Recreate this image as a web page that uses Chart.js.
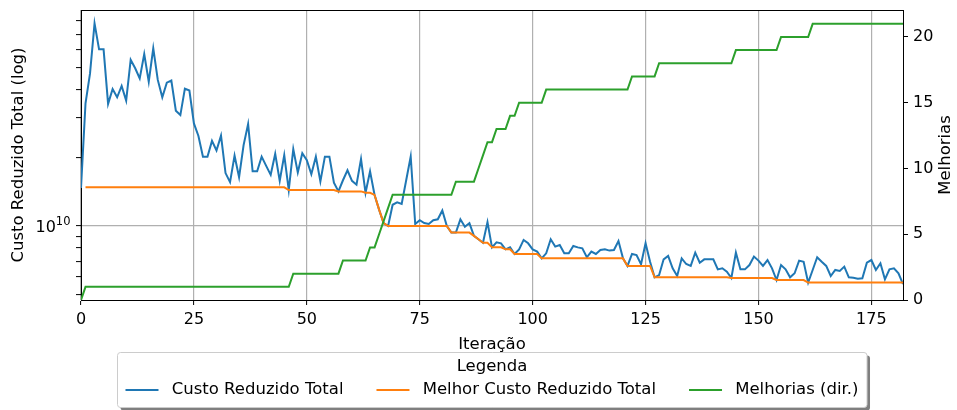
<!DOCTYPE html>
<html>
<head>
<meta charset="utf-8">
<script src="https://cdn.jsdelivr.net/npm/chart.js@4.4.1/dist/chart.umd.min.js"></script>
<style>
  html, body { margin: 0; padding: 0; background: #fff; }
</style>
</head>
<body>
<canvas id="myChart" width="957" height="410"></canvas>
<script>
// iterações 0..182
var iteracoes = [];
for (var k = 0; k <= 182; k++) iteracoes.push(k);

var custoReduzido = [
    1.47e10, 3.47e10, 4.70e10, 7.81e10, 6.00e10, 6.00e10, 3.45e10, 4.01e10, 3.69e10, 4.14e10,
    3.57e10, 5.39e10, 4.95e10, 4.47e10, 5.72e10, 4.32e10, 6.06e10, 4.40e10, 3.69e10, 4.28e10,
    4.37e10, 3.22e10, 3.08e10, 4.03e10, 3.95e10, 2.83e10, 2.49e10, 2.02e10, 2.02e10, 2.37e10,
    2.15e10, 2.50e10, 1.71e10, 1.56e10, 2.04e10, 1.64e10, 2.27e10, 2.81e10, 1.74e10, 1.74e10,
    2.02e10, 1.84e10, 1.68e10, 2.08e10, 1.58e10, 2.05e10, 1.44e10, 2.18e10, 1.72e10, 2.09e10,
    1.95e10, 1.69e10, 2.02e10, 1.57e10, 2.02e10, 2.02e10, 1.55e10, 1.42e10, 1.59e10, 1.76e10,
    1.58e10, 1.52e10, 1.97e10, 1.40e10, 1.74e10, 1.37e10, 1.18e10, 1.03e10, 1.00e10, 1.24e10,
    1.27e10, 1.25e10, 1.59e10, 2.02e10, 1.02e10, 1.06e10, 1.03e10, 1.02e10, 1.06e10, 1.07e10,
    1.17e10, 1.00e10, 9.35e9, 9.35e9, 1.07e10, 9.93e9, 1.03e10, 9.04e9, 8.74e9, 8.44e9,
    1.04e10, 8.05e9, 8.47e9, 8.39e9, 7.89e9, 8.05e9, 7.53e9, 7.89e9, 8.68e9, 8.39e9,
    7.89e9, 7.71e9, 7.20e9, 7.58e9, 8.74e9, 8.11e9, 8.25e9, 7.58e9, 7.58e9, 8.16e9,
    8.05e9, 7.97e9, 7.28e9, 7.71e9, 7.53e9, 7.84e9, 7.89e9, 7.79e9, 7.84e9, 8.59e9,
    7.20e9, 6.67e9, 7.53e9, 7.45e9, 6.78e9, 8.39e9, 6.96e9, 5.94e9, 6.08e9, 7.13e9,
    7.38e9, 6.51e9, 6.02e9, 7.20e9, 6.80e9, 6.67e9, 7.63e9, 6.89e9, 7.13e9, 7.13e9,
    7.13e9, 6.44e9, 6.51e9, 6.29e9, 5.90e9, 7.63e9, 6.44e9, 6.44e9, 6.73e9, 7.33e9,
    7.04e9, 6.67e9, 7.08e9, 6.51e9, 5.78e9, 6.73e9, 6.44e9, 5.94e9, 6.19e9, 7.04e9,
    6.96e9, 5.63e9, 6.40e9, 7.28e9, 6.96e9, 6.67e9, 6.02e9, 6.40e9, 6.34e9, 6.62e9,
    5.94e9, 5.92e9, 5.86e9, 5.88e9, 6.89e9, 7.08e9, 6.40e9, 6.85e9, 5.82e9, 6.44e9,
    6.51e9, 6.19e9, 5.55e9
];

var melhorCusto = [
    null, 1.48e10, 1.48e10, 1.48e10, 1.48e10, 1.48e10, 1.48e10, 1.48e10, 1.48e10, 1.48e10,
    1.48e10, 1.48e10, 1.48e10, 1.48e10, 1.48e10, 1.48e10, 1.48e10, 1.48e10, 1.48e10, 1.48e10,
    1.48e10, 1.48e10, 1.48e10, 1.48e10, 1.48e10, 1.48e10, 1.48e10, 1.48e10, 1.48e10, 1.48e10,
    1.48e10, 1.48e10, 1.48e10, 1.48e10, 1.48e10, 1.48e10, 1.48e10, 1.48e10, 1.48e10, 1.48e10,
    1.48e10, 1.48e10, 1.48e10, 1.48e10, 1.48e10, 1.48e10, 1.44e10, 1.44e10, 1.44e10, 1.44e10,
    1.44e10, 1.44e10, 1.44e10, 1.44e10, 1.44e10, 1.44e10, 1.44e10, 1.42e10, 1.42e10, 1.42e10,
    1.42e10, 1.42e10, 1.42e10, 1.40e10, 1.40e10, 1.37e10, 1.18e10, 1.03e10, 1.00e10, 1.00e10,
    1.00e10, 1.00e10, 1.00e10, 1.00e10, 1.00e10, 1.00e10, 1.00e10, 1.00e10, 1.00e10, 1.00e10,
    1.00e10, 1.00e10, 9.35e9, 9.35e9, 9.35e9, 9.35e9, 9.35e9, 9.04e9, 8.74e9, 8.44e9,
    8.44e9, 8.05e9, 8.05e9, 8.05e9, 7.89e9, 7.89e9, 7.53e9, 7.53e9, 7.53e9, 7.53e9,
    7.53e9, 7.53e9, 7.20e9, 7.20e9, 7.20e9, 7.20e9, 7.20e9, 7.20e9, 7.20e9, 7.20e9,
    7.20e9, 7.20e9, 7.20e9, 7.20e9, 7.20e9, 7.20e9, 7.20e9, 7.20e9, 7.20e9, 7.20e9,
    7.20e9, 6.67e9, 6.67e9, 6.67e9, 6.67e9, 6.67e9, 6.67e9, 5.94e9, 5.94e9, 5.94e9,
    5.94e9, 5.94e9, 5.94e9, 5.94e9, 5.94e9, 5.94e9, 5.94e9, 5.94e9, 5.94e9, 5.94e9,
    5.94e9, 5.94e9, 5.94e9, 5.94e9, 5.90e9, 5.90e9, 5.90e9, 5.90e9, 5.90e9, 5.90e9,
    5.90e9, 5.90e9, 5.90e9, 5.90e9, 5.78e9, 5.78e9, 5.78e9, 5.78e9, 5.78e9, 5.78e9,
    5.78e9, 5.63e9, 5.63e9, 5.63e9, 5.63e9, 5.63e9, 5.63e9, 5.63e9, 5.63e9, 5.63e9,
    5.63e9, 5.63e9, 5.63e9, 5.63e9, 5.63e9, 5.63e9, 5.63e9, 5.63e9, 5.63e9, 5.63e9,
    5.63e9, 5.63e9, 5.63e9
];

var melhorias = [
    0, 1, 1, 1, 1, 1, 1, 1, 1, 1,
    1, 1, 1, 1, 1, 1, 1, 1, 1, 1,
    1, 1, 1, 1, 1, 1, 1, 1, 1, 1,
    1, 1, 1, 1, 1, 1, 1, 1, 1, 1,
    1, 1, 1, 1, 1, 1, 1, 2, 2, 2,
    2, 2, 2, 2, 2, 2, 2, 2, 3, 3,
    3, 3, 3, 3, 4, 4, 5, 6, 7, 8,
    8, 8, 8, 8, 8, 8, 8, 8, 8, 8,
    8, 8, 8, 9, 9, 9, 9, 9, 10, 11,
    12, 12, 13, 13, 13, 14, 14, 15, 15, 15,
    15, 15, 15, 16, 16, 16, 16, 16, 16, 16,
    16, 16, 16, 16, 16, 16, 16, 16, 16, 16,
    16, 16, 17, 17, 17, 17, 17, 17, 18, 18,
    18, 18, 18, 18, 18, 18, 18, 18, 18, 18,
    18, 18, 18, 18, 18, 19, 19, 19, 19, 19,
    19, 19, 19, 19, 19, 20, 20, 20, 20, 20,
    20, 20, 21, 21, 21, 21, 21, 21, 21, 21,
    21, 21, 21, 21, 21, 21, 21, 21, 21, 21,
    21, 21, 21
];

var xTicks = [0, 25, 50, 75, 100, 125, 150, 175];
var yTicksLog = [5e9, 6e9, 7e9, 8e9, 9e9, 1e10, 2e10, 3e10, 4e10, 5e10, 6e10, 7e10, 8e10];
var yTicksDir = [0, 5, 10, 15, 20];

Chart.defaults.font.family = '"DejaVu Sans", sans-serif';
Chart.defaults.color = '#000';

var tickFont = { size: 16 };
var labelFont = { size: 16.5 };

function pontos(serie) {
    return iteracoes.map(function (x, i) { return { x: x, y: serie[i] }; });
}

function semPadding(s) {
    s.paddingTop = 0;
    s.paddingBottom = 0;
}

// moldura do gráfico, rótulo 10^10 e título do eixo direito
var moldura = {
    id: 'moldura',
    afterDraw: function (chart) {
        var ctx = chart.ctx, a = chart.chartArea;
        ctx.save();
        ctx.strokeStyle = '#000';
        ctx.lineWidth = 1;
        ctx.beginPath();
        ctx.moveTo(a.left, a.top + 0.5);
        ctx.lineTo(a.right, a.top + 0.5);
        ctx.stroke();

        // 10^10 como no matplotlib (expoente menor e elevado)
        var yp = chart.scales.y.getPixelForValue(1e10);
        ctx.fillStyle = '#000';
        ctx.textBaseline = 'alphabetic';
        ctx.textAlign = 'right';
        ctx.font = '11.5px "DejaVu Sans"';
        var wSup = ctx.measureText('10').width;
        ctx.fillText('10', 70.5, yp - 1);
        ctx.font = tickFont.size + 'px "DejaVu Sans"';
        ctx.fillText('10', 70.5 - wSup, yp + 6);

        ctx.font = labelFont.size + 'px "DejaVu Sans"';
        ctx.textAlign = 'center';
        ctx.textBaseline = 'middle';
        ctx.translate(946, (a.top + a.bottom) / 2);
        ctx.rotate(-Math.PI / 2);
        ctx.fillText('Melhorias', 0, 0);
        ctx.restore();
    }
};

var quadroLegenda = {
    id: 'quadroLegenda',
    afterDraw: function (chart) {
        var ctx = chart.ctx, a = chart.chartArea;
        var sets = chart.data.datasets;
        var fs = labelFont.size;
        ctx.save();
        ctx.font = fs + 'px "DejaVu Sans"';
        var handle = 2 * fs, textPad = 0.8 * fs, colGap = 2 * fs, pad = 0.5 * fs;
        var widths = sets.map(function (d) { return ctx.measureText(d.label).width; });
        var content = colGap * (sets.length - 1);
        widths.forEach(function (w) { content += handle + textPad + w; });
        var cx = (a.left + a.right) / 2;
        var boxW = content + 2 * pad, boxH = 55;
        var bx = Math.round(cx - boxW / 2) + 0.5, by = 352.5;

        ctx.fillStyle = 'rgba(0,0,0,0.5)';
        ctx.beginPath();
        ctx.roundRect(bx + 3, by + 3, boxW, boxH, 3);
        ctx.fill();
        ctx.fillStyle = '#fff';
        ctx.strokeStyle = '#cccccc';
        ctx.lineWidth = 1;
        ctx.beginPath();
        ctx.roundRect(bx, by, boxW, boxH, 3);
        ctx.fill();
        ctx.stroke();

        ctx.fillStyle = '#000';
        ctx.textBaseline = 'middle';
        ctx.textAlign = 'center';
        ctx.fillText('Legenda', cx, 367);

        ctx.textAlign = 'left';
        var x = cx - content / 2, y = 390;
        sets.forEach(function (d, i) {
            ctx.strokeStyle = d.borderColor;
            ctx.lineWidth = 2;
            ctx.beginPath();
            ctx.moveTo(x, y);
            ctx.lineTo(x + handle, y);
            ctx.stroke();
            ctx.fillText(d.label, x + handle + textPad, y);
            x += handle + textPad + widths[i] + colGap;
        });
        ctx.restore();
    }
};

new Chart(document.getElementById('myChart').getContext('2d'), {
    type: 'line',
    data: {
        datasets: [
            { label: 'Custo Reduzido Total', data: pontos(custoReduzido), borderColor: '#1f77b4', yAxisID: 'y', order: 2 },
            { label: 'Melhor Custo Reduzido Total', data: pontos(melhorCusto), borderColor: '#ff7f0e', yAxisID: 'y', order: 1 },
            { label: 'Melhorias (dir.)', data: pontos(melhorias), borderColor: '#2ca02c', yAxisID: 'y1', order: 0 }
        ]
    },
    options: {
        responsive: false,
        animation: false,
        devicePixelRatio: 1,
        layout: { padding: { top: 10, left: 0, right: 0, bottom: 0 } },
        elements: {
            point: { radius: 0 },
            line: { tension: 0, borderWidth: 2, fill: false }
        },
        plugins: { legend: { display: false }, tooltip: { enabled: false } },
        scales: {
            x: {
                type: 'linear', min: 0, max: 182,
                afterBuildTicks: function (s) { s.ticks = xTicks.map(function (v) { return { value: v }; }); },
                afterFit: function (s) { s.height = 110; s.paddingLeft = 0; s.paddingRight = 0; },
                ticks: { font: tickFont, padding: 5, maxRotation: 0, autoSkip: false },
                grid: { color: '#b0b0b0', lineWidth: 1.2, tickColor: '#000', tickLength: 5, tickWidth: 1 },
                border: { color: '#000', width: 1 },
                title: { display: true, text: 'Iteração', font: labelFont, padding: { top: 0, bottom: 55 } }
            },
            y: {
                type: 'logarithmic', position: 'left', min: 4.72e9, max: 8.94e10,
                afterBuildTicks: function (s) { s.ticks = yTicksLog.map(function (v) { return { value: v }; }); },
                afterFit: function (s) { s.width = 81; semPadding(s); },
                ticks: {
                    font: tickFont, padding: 5, autoSkip: false,
                    callback: function () { return ''; }
                },
                grid: {
                    color: function (c) { return c.tick && c.tick.value === 1e10 ? '#b0b0b0' : 'rgba(0,0,0,0)'; },
                    lineWidth: 1.2, tickColor: '#000', tickLength: 5, tickWidth: 1
                },
                border: { color: '#000', width: 1 },
                title: { display: true, text: 'Custo Reduzido Total (log)', font: labelFont, padding: { top: 9, bottom: 0 } }
            },
            y1: {
                type: 'linear', position: 'right', min: 0, max: 22.05,
                afterBuildTicks: function (s) { s.ticks = yTicksDir.map(function (v) { return { value: v }; }); },
                afterFit: function (s) { s.width = 54; semPadding(s); },
                ticks: { font: tickFont, padding: 5 },
                grid: { drawOnChartArea: false, tickColor: '#000', tickLength: 5, tickWidth: 1 },
                border: { color: '#000', width: 1 }
            }
        }
    },
    plugins: [moldura, quadroLegenda]
});
</script>
</body>
</html>
